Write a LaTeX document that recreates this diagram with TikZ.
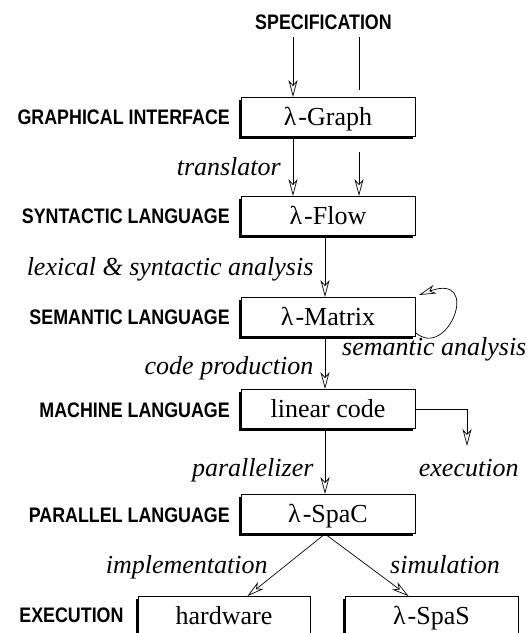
\documentclass[tikz,border=0pt]{standalone}
\usepackage{fontspec}
\setmainfont{Liberation Serif}
\newfontfamily\labfont{Liberation Sans}[FakeStretch=0.85]
\usetikzlibrary{arrows.meta,shadows}
\begin{document}
\begin{tikzpicture}[x=1pt,y=-1pt,
  box/.style={draw, line width=0.9pt, fill=white, minimum width=174pt, minimum height=39pt,
    inner sep=0pt, text height=18pt, text depth=2pt, font=\fontsize{26}{30}\selectfont,
    general shadow={fill=black, shadow xshift=-2.5pt, shadow yshift=-2.5pt}},
  lvl/.style={anchor=east, font=\labfont\bfseries\fontsize{21}{24}\selectfont, inner sep=0pt},
  itl/.style={font=\itshape\fontsize{26}{30}\selectfont, inner sep=0pt},
  arr/.style={line width=0.7pt, -{Stealth[open, length=17pt, width=9pt, inset=5pt, line width=0.7pt]}},
  ln/.style={line width=0.7pt}]
\useasboundingbox (0,0) rectangle (531,633);
\clip (0,0) rectangle (531,633);

% column coordinates
\coordinate (cx) at (325,0);
\coordinate (sL) at (293,37);
\coordinate (sR) at (359,37);
\coordinate (sRe) at (359,90);

\node[lvl, anchor=center] (spec) at (323.5,22.7) {SPECIFICATION};

% lambda-Graph
\node[box] (g) at (328,117) {λ\kern2pt-Graph};
\node[lvl] (lg) at (230,117) {GRAPHICAL INTERFACE};
\draw[arr] (sL) -- (sL |- g.north);
\draw[ln] (sR) -- (sRe);

% lambda-Flow
\node[box] (f) at (328,216) {λ\kern2pt-Flow};
\node[lvl] (lf) at (230,216) {SYNTACTIC LANGUAGE};
\coordinate (gR) at (359,152);
\draw[arr] (sL |- g.south) -- (sL |- f.north);
\draw[arr] (gR) -- (gR |- f.north);
\node[itl, anchor=base east] (tr) at (281,175) {translator};

% lambda-Matrix
\node[box] (m) at (328,317) {λ\kern2pt-Matrix};
\node[lvl] (lm) at (230,317.5) {SEMANTIC LANGUAGE};
\draw[arr] (cx |- f.south) -- (cx |- m.north);
\node[itl, anchor=base east] (lex) at (313.6,275.4) {lexical \& syntactic analysis};
\coordinate (lp1) at (416,333);
\coordinate (lp2) at (419,295);
\draw[arr] (lp1) .. controls (448,360) and (482,272) .. (lp2);
\node[itl, anchor=base west] (sem) at (342,355) {semantic analysis};

% linear code
\node[box] (lc) at (328,409) {linear code};
\node[lvl] (ll) at (230,410) {MACHINE LANGUAGE};
\draw[arr] (cx |- m.south) -- (cx |- lc.north);
\node[itl, anchor=base east] (cp) at (313.6,374) {code production};
\coordinate (ex) at (467,446);
\draw[arr] (lc.east) -| (ex);
\node[itl, anchor=base west] (exl) at (418.7,476) {execution};

% lambda-SpaC
\node[box] (sp) at (328,514) {λ\kern2pt-SpaC};
\node[lvl] (ls) at (230,515) {PARALLEL LANGUAGE};
\draw[arr] (cx |- lc.south) -- (cx |- sp.north);
\node[itl, anchor=base east] (par) at (313.6,476) {parallelizer};

% execution level
\node[box, minimum width=172pt] (hw) at (224,616) {hardware};
\node[box, minimum width=173pt] (ss) at (431.5,616) {λ\kern2pt-SpaS};
\node[lvl] (le) at (123.7,615) {EXECUTION};
\draw[arr] (cx |- sp.south) -- ([xshift=23.5pt]hw.north);
\draw[arr] (cx |- sp.south) -- ([xshift=-23pt]ss.north);
\node[itl, anchor=base east] (imp) at (267.8,573) {implementation};
\node[itl, anchor=base west] (sim) at (390,573) {simulation};
\end{tikzpicture}
\end{document}
